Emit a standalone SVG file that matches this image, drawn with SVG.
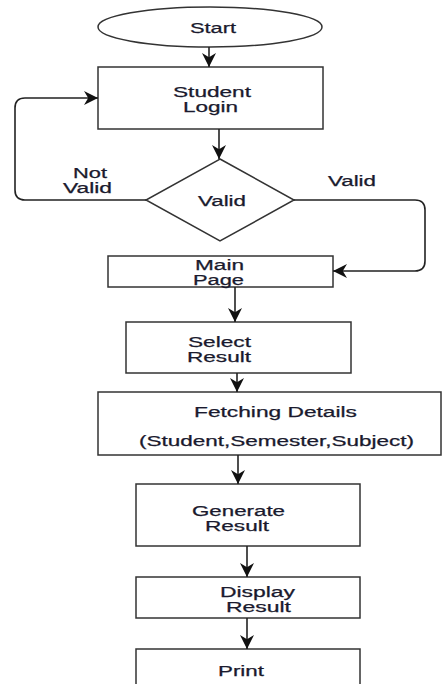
<svg xmlns="http://www.w3.org/2000/svg" width="442" height="684" viewBox="0 0 442 684">
<style>
.box{fill:#fff;stroke:#333;stroke-width:1.5}
.t{font-family:"Liberation Sans",Arial,sans-serif;font-size:14px;fill:#1a1a2e;text-anchor:middle;stroke:#1a1a2e;stroke-width:0.25}
.c{fill:none;stroke:#222;stroke-width:1.6}
</style>
<defs>
<marker id="ah" markerUnits="userSpaceOnUse" markerWidth="14" markerHeight="14" viewBox="0 0 10 10" refX="10" refY="5" orient="auto">
<path d="M0,0 L10,5 L0,10 L3,5 z" fill="#111"/>
</marker>
</defs>
<rect width="442" height="684" fill="#fff"/>
<g id="start"><ellipse class="box" cx="210" cy="27" rx="112" ry="20"/><text class="t" x="213" y="33" textLength="46" lengthAdjust="spacingAndGlyphs">Start</text></g>
<g id="login"><rect class="box" x="98" y="67" width="225" height="62"/><text class="t" x="212" y="97" textLength="78" lengthAdjust="spacingAndGlyphs">Student</text><text class="t" x="210.5" y="112" textLength="55" lengthAdjust="spacingAndGlyphs">Login</text></g>
<g id="valid"><polygon class="box" points="220,159 294,200 220,241 146,200"/><text class="t" x="222" y="206" textLength="48" lengthAdjust="spacingAndGlyphs">Valid</text></g>
<g id="main"><rect class="box" x="108" y="256" width="225" height="31"/><text class="t" x="219.5" y="270" textLength="49" lengthAdjust="spacingAndGlyphs">Main</text><text class="t" x="218.5" y="285" textLength="51" lengthAdjust="spacingAndGlyphs">Page</text></g>
<g id="select"><rect class="box" x="126" y="322" width="225" height="51"/><text class="t" x="219.5" y="347" textLength="63" lengthAdjust="spacingAndGlyphs">Select</text><text class="t" x="219" y="362" textLength="64" lengthAdjust="spacingAndGlyphs">Result</text></g>
<g id="fetch"><rect class="box" x="98" y="392" width="343" height="63"/><text class="t" x="275.5" y="417" textLength="163" lengthAdjust="spacingAndGlyphs">Fetching Details</text><text class="t" x="276.5" y="446" textLength="275" lengthAdjust="spacingAndGlyphs">(Student,Semester,Subject)</text></g>
<g id="generate"><rect class="box" x="136" y="484" width="224" height="62"/><text class="t" x="238.5" y="516" textLength="93" lengthAdjust="spacingAndGlyphs">Generate</text><text class="t" x="237" y="531" textLength="64" lengthAdjust="spacingAndGlyphs">Result</text></g>
<g id="display"><rect class="box" x="136" y="577" width="224" height="41"/><text class="t" x="257.5" y="597" textLength="75" lengthAdjust="spacingAndGlyphs">Display</text><text class="t" x="258.5" y="612" textLength="65" lengthAdjust="spacingAndGlyphs">Result</text></g>
<g id="print"><rect class="box" x="136" y="649" width="224" height="45"/><text class="t" x="241" y="676" textLength="46" lengthAdjust="spacingAndGlyphs">Print</text></g>
<g id="connectors">
<path class="c" marker-end="url(#ah)" d="M209,47 V67"/>
<path class="c" marker-end="url(#ah)" d="M219,129 V159"/>
<path class="c" marker-end="url(#ah)" d="M146,200 H25 Q15,200 15,190 V108 Q15,98 25,98 H98"/>
<path class="c" marker-end="url(#ah)" d="M294,200 H415 Q425,200 425,210 V261 Q425,271 415,271 H333"/>
<path class="c" marker-end="url(#ah)" d="M235,287 V322"/>
<path class="c" marker-end="url(#ah)" d="M237,373 V392"/>
<path class="c" marker-end="url(#ah)" d="M238,455 V484"/>
<path class="c" marker-end="url(#ah)" d="M247,546 V577"/>
<path class="c" marker-end="url(#ah)" d="M247,618 V649"/>
<text class="t" x="90" y="178" textLength="34" lengthAdjust="spacingAndGlyphs">Not</text>
<text class="t" x="87.5" y="193" textLength="49" lengthAdjust="spacingAndGlyphs">Valid</text>
<text class="t" x="352" y="186" textLength="48" lengthAdjust="spacingAndGlyphs">Valid</text>
</g>
</svg>
